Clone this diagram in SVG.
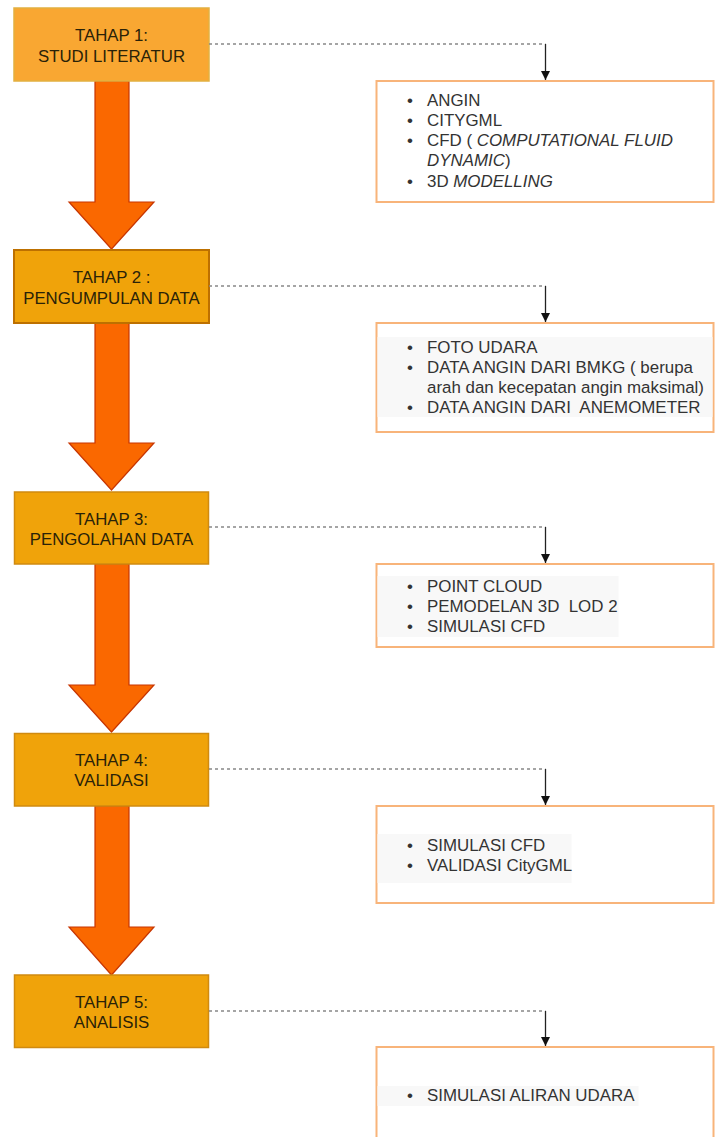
<svg xmlns="http://www.w3.org/2000/svg" width="715" height="1137" viewBox="0 0 715 1137">
<defs>
<marker id="ah" markerWidth="9" markerHeight="9" refX="9" refY="4.5" orient="auto" markerUnits="userSpaceOnUse" viewBox="0 0 9 9">
<path d="M0,0 L9,4.5 L0,9 Z" fill="#111"/>
</marker>
<style>
.stage{fill:#F0A30A;stroke:#D08A10;stroke-width:1.5}
.s1{fill:#F9A732;stroke:#E2B040}
.s2{stroke:#BD7000;stroke-width:2}
.lbl{font-family:"Liberation Sans",Arial,sans-serif;font-size:16.8px;fill:#2a2208;text-anchor:middle}
.big{fill:#FA6800;stroke:#C73500;stroke-width:1.2}
.info{fill:#fff;stroke:#F8B47A;stroke-width:2}
.hl{fill:#F8F8F8}
.it{font-family:"Liberation Sans",Arial,sans-serif;font-size:16.9px;fill:#333;white-space:pre}
.i{font-style:italic}
.dash{fill:none;stroke:#888;stroke-width:1.5;stroke-dasharray:3 3}
.solid{fill:none;stroke:#222;stroke-width:1.3}
</style>
</defs>

<g id="arrows">
<path class="big" d="M95,81 L129,81 L129,202 L154,202 L111.5,249 L69,202 L95,202 Z"/>
<path class="big" d="M95,323 L129,323 L129,443 L154,443 L111.5,490 L69,443 L95,443 Z"/>
<path class="big" d="M95,564 L129,564 L129,685 L154,685 L111.5,732 L69,685 L95,685 Z"/>
<path class="big" d="M95,806 L129,806 L129,927 L154,927 L111.5,975 L69,927 L95,927 Z"/>
</g>

<g id="stage1">
<rect class="stage s1" x="14" y="8" width="195" height="73"/>
<text class="lbl" x="111.5" y="41">TAHAP 1:</text>
<text class="lbl" x="111.5" y="62">STUDI LITERATUR</text>
</g>
<g id="stage2">
<rect class="stage s2" x="14" y="250" width="195" height="73"/>
<text class="lbl" x="111.5" y="283">TAHAP 2 :</text>
<text class="lbl" x="111.5" y="303.5">PENGUMPULAN DATA</text>
</g>
<g id="stage3">
<rect class="stage" x="14.5" y="492" width="194" height="72"/>
<text class="lbl" x="111.5" y="524.5">TAHAP 3:</text>
<text class="lbl" x="111.5" y="544.5">PENGOLAHAN DATA</text>
</g>
<g id="stage4">
<rect class="stage" x="14.5" y="733.5" width="194" height="72.5"/>
<text class="lbl" x="111.5" y="766">TAHAP 4:</text>
<text class="lbl" x="111.5" y="786">VALIDASI</text>
</g>
<g id="stage5">
<rect class="stage" x="14.5" y="975" width="194" height="72.5"/>
<text class="lbl" x="111.5" y="1007.5">TAHAP 5:</text>
<text class="lbl" x="111.5" y="1028">ANALISIS</text>
</g>

<g id="connectors">
<path class="dash" d="M209,44 L545.5,44"/>
<path class="solid" d="M545.5,44 L545.5,80" marker-end="url(#ah)"/>
<path class="dash" d="M209,286 L545.5,286"/>
<path class="solid" d="M545.5,286 L545.5,322" marker-end="url(#ah)"/>
<path class="dash" d="M209,527 L545.5,527"/>
<path class="solid" d="M545.5,527 L545.5,563" marker-end="url(#ah)"/>
<path class="dash" d="M209,769 L545.5,769"/>
<path class="solid" d="M545.5,769 L545.5,805" marker-end="url(#ah)"/>
<path class="dash" d="M209,1011 L545.5,1011"/>
<path class="solid" d="M545.5,1011 L545.5,1046" marker-end="url(#ah)"/>
</g>

<g id="info1">
<rect class="info" x="376.5" y="81" width="337" height="121"/>
<text class="it" x="407" y="106">•</text><text class="it" x="427" y="106">ANGIN</text>
<text class="it" x="407" y="126">•</text><text class="it" x="427" y="126">CITYGML</text>
<text class="it" x="407" y="146">•</text><text class="it" x="427" y="146">CFD ( <tspan class="i">COMPUTATIONAL FLUID</tspan></text>
<text class="it" x="427" y="166"><tspan class="i">DYNAMIC</tspan>)</text>
<text class="it" x="407" y="187">•</text><text class="it" x="427" y="187">3D <tspan class="i">MODELLING</tspan></text>
</g>

<g id="info2">
<rect class="info" x="376.5" y="323" width="337" height="109"/>
<rect class="hl" x="377.5" y="337" width="335" height="80"/>
<text class="it" x="407" y="353">•</text><text class="it" x="427" y="353">FOTO UDARA</text>
<text class="it" x="407" y="373">•</text><text class="it" x="427" y="373">DATA ANGIN DARI BMKG ( berupa</text>
<text class="it" x="427" y="393">arah dan kecepatan angin maksimal)</text>
<text class="it" x="407" y="413">•</text><text class="it" x="427" y="413">DATA ANGIN DARI  ANEMOMETER</text>
</g>

<g id="info3">
<rect class="info" x="376.5" y="564" width="337" height="83"/>
<rect class="hl" x="377.5" y="576" width="241" height="61"/>
<text class="it" x="407" y="592">•</text><text class="it" x="427" y="592">POINT CLOUD</text>
<text class="it" x="407" y="612">•</text><text class="it" x="427" y="612">PEMODELAN 3D  LOD 2</text>
<text class="it" x="407" y="632">•</text><text class="it" x="427" y="632">SIMULASI CFD</text>
</g>

<g id="info4">
<rect class="info" x="376.5" y="806" width="337" height="97"/>
<rect class="hl" x="377.5" y="834" width="194" height="49"/>
<text class="it" x="407" y="851">•</text><text class="it" x="427" y="851">SIMULASI CFD</text>
<text class="it" x="407" y="871">•</text><text class="it" x="427" y="871">VALIDASI CityGML</text>
</g>

<g id="info5">
<rect class="info" x="376.5" y="1047" width="337" height="120"/>
<rect class="hl" x="377.5" y="1086" width="261" height="20"/>
<text class="it" x="407" y="1101">•</text><text class="it" x="427" y="1101">SIMULASI ALIRAN UDARA</text>
</g>
</svg>
